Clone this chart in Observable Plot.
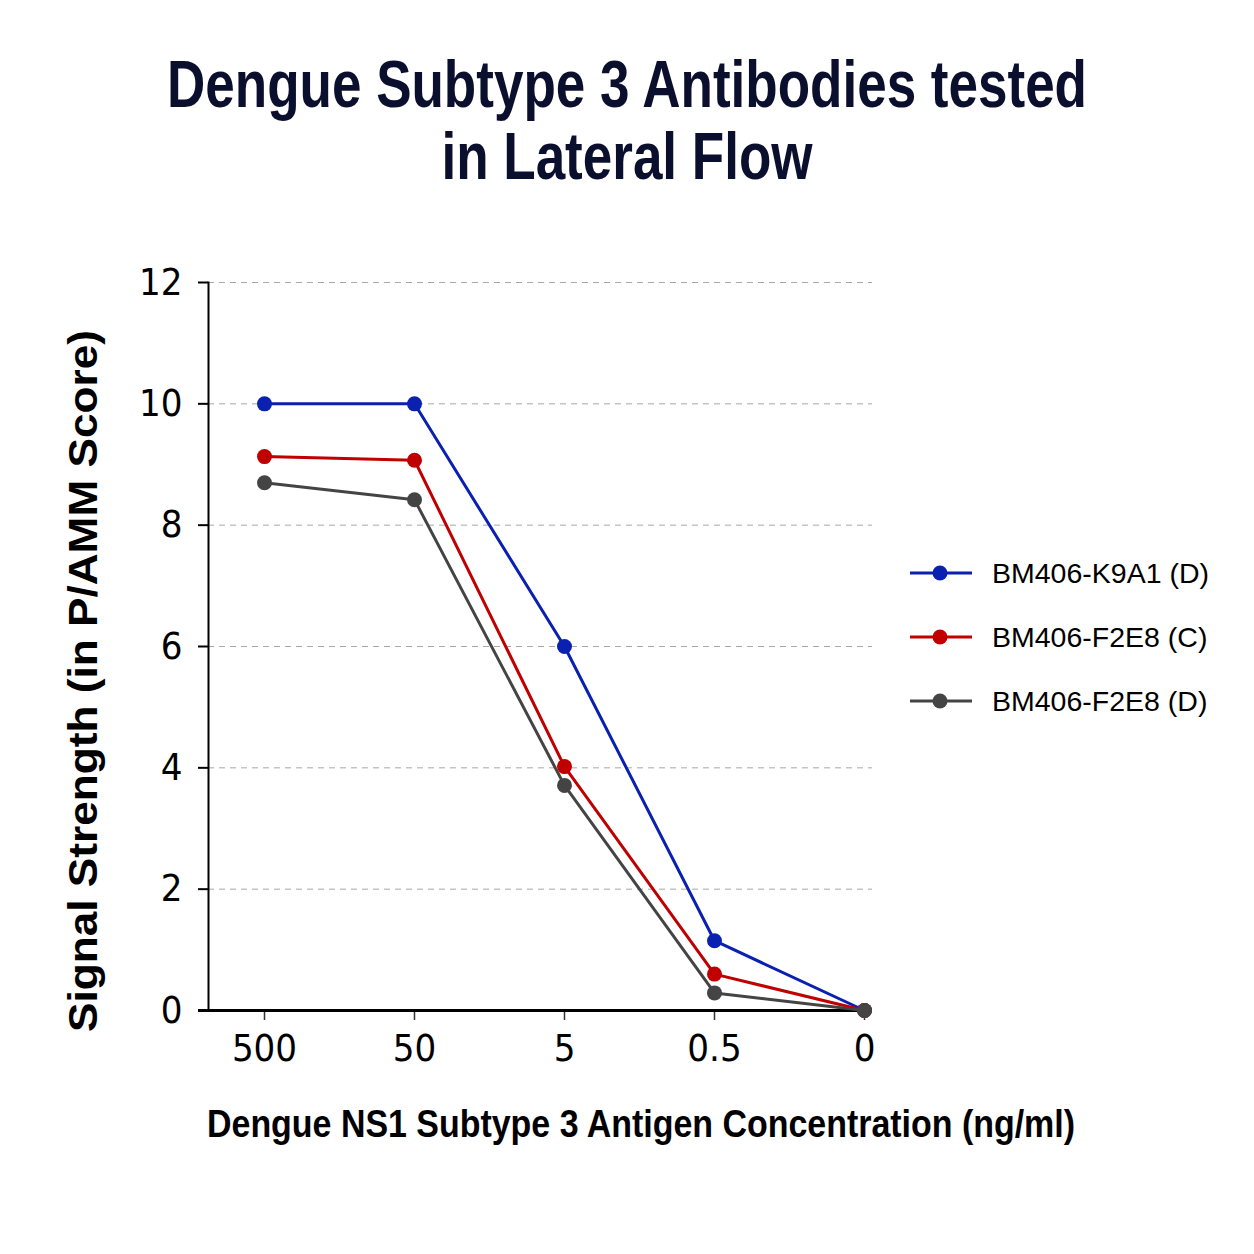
<!DOCTYPE html>
<html>
<head>
<meta charset="utf-8">
<script src="https://cdn.jsdelivr.net/npm/d3@7"></script>
<script src="https://cdn.jsdelivr.net/npm/@observablehq/plot@0.6"></script>
<style>
  html, body { margin: 0; padding: 0; background: #fff; }
  #page { position: relative; width: 1254px; height: 1254px; overflow: hidden; background: #fff; }
  .bold { font-family: "Liberation Sans", Arial, sans-serif; font-weight: bold; white-space: nowrap; }
  #title { position: absolute; left: 627px; top: 48px; text-align: center; font-size: 66px; line-height: 72px; color: #0b0f2e; }
  #xlabel { position: absolute; left: 641px; top: 1105px; font-size: 38px; line-height: 38px; color: #000; }
  #ylabel { position: absolute; left: 83px; top: 681px; font-size: 40px; line-height: 42px; color: #000; }
  #chart { position: absolute; left: 0; top: 200px; }
  #legend { position: absolute; left: 908px; top: 541px; font-family: "Liberation Sans", Arial, sans-serif; font-size: 28.5px; color: #000; }
  .item { display: flex; align-items: center; height: 64px; }
  .item svg { margin-right: 18px; }
</style>
</head>
<body>
<div id="page">
  <div id="title" class="bold">Dengue Subtype 3 Antibodies tested<br>in Lateral Flow</div>
  <div id="ylabel" class="bold">Signal Strength (in P/AMM Score)</div>
  <div id="chart"></div>
  <div id="legend"></div>
  <div id="xlabel" class="bold">Dengue NS1 Subtype 3 Antigen Concentration (ng/ml)</div>
</div>
<script>
const concentrations = ["500", "50", "5", "0.5", "0"];
const seriesNames = ["BM406-K9A1 (D)", "BM406-F2E8 (C)", "BM406-F2E8 (D)"];
const k9a1D = [10, 10, 6.0, 1.15, 0];
const f2e8C = [9.13, 9.07, 4.02, 0.6, 0];
const f2e8D = [8.7, 8.42, 3.71, 0.29, 0];
const seriesColors = ["#0a20b0", "#c00000", "#444444"];
const yTicks = [0, 2, 4, 6, 8, 10, 12];
const gridValues = [2, 4, 6, 8, 10, 12];

const seriesValues = [k9a1D, f2e8C, f2e8D];
const data = [];
seriesNames.forEach((name, i) => {
  concentrations.forEach((c, j) => {
    data.push({series: name, conc: c, value: seriesValues[i][j]});
  });
});

const chart = Plot.plot({
  width: 900,
  height: 1000,
  marginLeft: 208,
  marginRight: 28,
  marginTop: 82,
  marginBottom: 190,
  style: {
    fontFamily: '"DejaVu Sans Condensed", "Liberation Sans", sans-serif',
    fontSize: "38px",
    color: "#000",
    background: "transparent",
    overflow: "visible"
  },
  x: {type: "point", domain: concentrations, range: [263, 864], padding: 0, label: null},
  y: {domain: [0, 12], label: null},
  color: {domain: seriesNames, range: seriesColors},
  marks: [
    Plot.ruleY(gridValues, {stroke: "#a8a8a8", strokeWidth: 1, strokeDasharray: "6,5"}),
    Plot.axisY({ticks: yTicks, tickSize: 10, tickPadding: 16, tickFormat: d => String(d), stroke: "#000", strokeWidth: 2, strokeOpacity: 1, fontSize: 38, label: null}),
    Plot.axisX({tickSize: 10, tickPadding: 14, stroke: "#333", strokeWidth: 1.5, strokeOpacity: 1, fontSize: 38, label: null}),
    Plot.frame({anchor: "left", stroke: "#000", strokeWidth: 2}),
    Plot.ruleY([0], {stroke: "#000", strokeWidth: 3}),
    Plot.ruleY([0], {stroke: "#000", strokeWidth: 3, dx: -10}),
    Plot.line(data, {x: "conc", y: "value", stroke: "series", strokeWidth: 3}),
    Plot.dot(data, {x: "conc", y: "value", fill: "series", r: 7.5})
  ]
});
document.getElementById("chart").appendChild(chart);

// fit text blocks horizontally to the reference's widths
function fit(id, target, rotate) {
  const el = document.getElementById(id);
  const w = el.getBoundingClientRect().width;
  const s = target / w;
  el.style.transformOrigin = "50% 50%";
  el.style.transform = "translate(-50%, " + (rotate ? "-50%" : "0") + ")" + (rotate ? " rotate(-90deg)" : "") + " scaleX(" + s + ")";
}
fit("title", 920, false);
fit("xlabel", 868, false);
fit("ylabel", 702, true);

const legend = document.getElementById("legend");
seriesNames.forEach((name, i) => {
  const item = document.createElement("div");
  item.className = "item";
  const ns = "http://www.w3.org/2000/svg";
  const sw = document.createElementNS(ns, "svg");
  sw.setAttribute("width", 66);
  sw.setAttribute("height", 20);
  const ln = document.createElementNS(ns, "line");
  ln.setAttribute("x1", 2); ln.setAttribute("x2", 64);
  ln.setAttribute("y1", 10); ln.setAttribute("y2", 10);
  ln.setAttribute("stroke", seriesColors[i]); ln.setAttribute("stroke-width", 3);
  const c = document.createElementNS(ns, "circle");
  c.setAttribute("cx", 32); c.setAttribute("cy", 10); c.setAttribute("r", 7.5);
  c.setAttribute("fill", seriesColors[i]);
  sw.appendChild(ln); sw.appendChild(c);
  const t = document.createElement("span");
  t.textContent = name;
  item.appendChild(sw); item.appendChild(t);
  legend.appendChild(item);
});
</script>
</body>
</html>
